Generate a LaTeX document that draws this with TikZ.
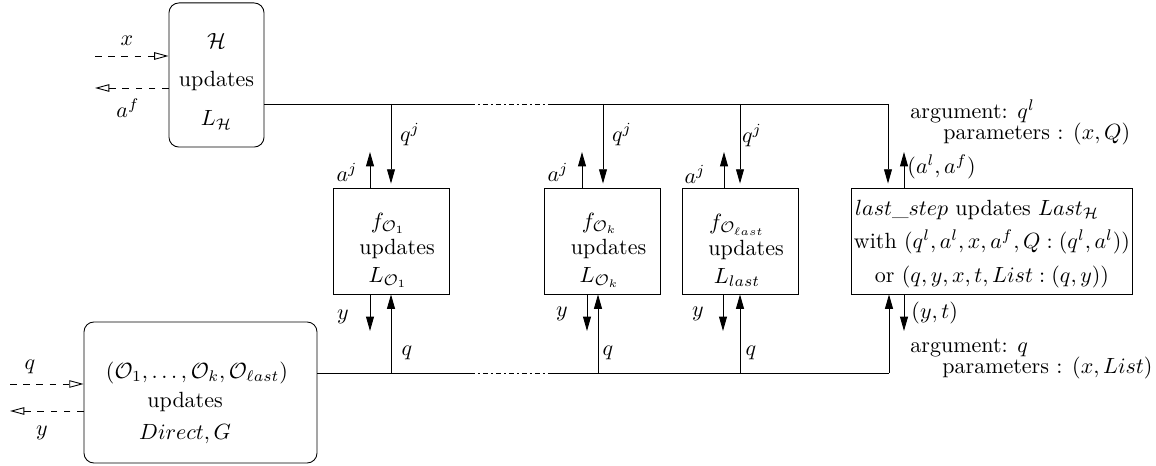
\documentclass[tikz,border=0pt]{standalone}
\usetikzlibrary{arrows.meta}
\begin{document}
\begin{tikzpicture}[x=0.4545pt,y=-0.4545pt,
  arr/.style={-{Triangle[length=6.5pt,width=3.6pt]}},
  oarr/.style={dashed,-{Triangle[open,length=6.5pt,width=3.4pt]}},
  dd/.style={dash pattern=on 2.2pt off 1.4pt on 0.9pt off 1.4pt},
  lbl/.style={inner sep=0pt},
  rbox/.style={draw, rounded corners=4.5pt, align=center, inner sep=1pt},
  sbox/.style={draw, align=center, inner sep=1pt, minimum width=52.7pt, minimum height=48.2pt}]
\useasboundingbox (0,0) rectangle (1156,466);

% boxes
\node[rbox, minimum width=43.2pt, minimum height=65.5pt] (H) at (216.5,75)
  {\rule{0pt}{12.5pt}$\mathcal{H}$\\[5.3pt] updates\\[6pt] $L_{\mathcal{H}}$};
\node[rbox, minimum width=105.9pt, minimum height=64.1pt] (D) at (200.5,392.5)
  {\rule{0pt}{17pt}$(\mathcal{O}_1,\ldots,\mathcal{O}_k,\mathcal{O}_{\ell ast})$\hspace*{3.2pt}\mbox{}\\[1.5pt]%
   updates\hspace*{14pt}\mbox{}\\[2.5pt]%
   $Direct,G$\hspace*{14pt}\mbox{}};
\node[sbox] (F1) at (391,241)
  {\rule{0pt}{15.5pt}$f_{\mathcal{O}_1}$\hspace*{2.7pt}\mbox{}\\%
   \mbox{}\hspace*{5.5pt}updates\\[0.5pt]%
   $L_{\mathcal{O}_1}$\hspace*{2.7pt}\mbox{}};
\node[sbox] (Fk) at (602.5,241)
  {\rule{0pt}{15.5pt}$f_{\mathcal{O}_k}$\hspace*{2.7pt}\mbox{}\\%
   \mbox{}\hspace*{5.5pt}updates\\[0.5pt]%
   $L_{\mathcal{O}_k}$\hspace*{2.7pt}\mbox{}};
\node[sbox] (Fl) at (740,241)
  {\rule{0pt}{15.5pt}$f_{\mathcal{O}_{\ell ast}}$\hspace*{2.7pt}\mbox{}\\%
   \mbox{}\hspace*{5.5pt}updates\\[0.5pt]%
   $L_{last}$\hspace*{2.7pt}\mbox{}};
\node[sbox, minimum width=127.3pt] (LS) at (992,241)
  {\rule{0pt}{10pt}$last\_step$ updates $Last_{\mathcal{H}}$\hspace*{13.5pt}\mbox{}\\[3pt]%
   with $(q^l,a^l,x,a^f,Q:(q^l,a^l))$\\[3.5pt]%
   or $(q,y,x,t,List:(q,y))$};

% coordinates
\coordinate (hb) at (264,104);
\coordinate (g1) at (470,104);
\coordinate (g2) at (550,104);
\coordinate (tr) at (888,104);
\coordinate (db) at (317,373);
\coordinate (h1) at (470,373);
\coordinate (h2) at (550,373);
\coordinate (br) at (889,373);
\coordinate (q1) at (391,104);
\coordinate (qk) at (603,104);
\coordinate (ql) at (740,104);
\coordinate (a1) at (370,152);
\coordinate (ak) at (582,152);
\coordinate (al) at (724,152);
\coordinate (y1) at (370,331);
\coordinate (yk) at (587,331);
\coordinate (yl) at (723,331);
\coordinate (b1) at (391,373);
\coordinate (bk) at (598,373);
\coordinate (bl) at (740,373);
\coordinate (la) at (904,152);
\coordinate (lb) at (904,331);
\coordinate (xs) at (95,56);
\coordinate (af) at (95,88);
\coordinate (qs) at (10,384);
\coordinate (ys) at (10,411);

% buses
\draw (hb) -- (g1);
\draw[dd] (g1) -- (g2);
\draw (g2) -- (tr);
\draw[arr, shorten >=1.8pt] (tr) -- (LS.north -| tr);
\draw (db) -- (h1);
\draw[dd] (h1) -- (h2);
\draw (h2) -- (br);
\draw[arr] (br) -- (LS.south -| br);

% top arrows
\draw[arr, shorten >=1.8pt] (q1) -- (F1.north -| q1);
\draw[arr, shorten >=1.8pt] (qk) -- (Fk.north -| qk);
\draw[arr, shorten >=1.8pt] (ql) -- (Fl.north -| ql);
\draw[arr] (F1.north -| a1) -- (a1);
\draw[arr] (Fk.north -| ak) -- (ak);
\draw[arr] (Fl.north -| al) -- (al);
\draw[arr] (LS.north -| la) -- (la);

% bottom arrows
\draw[arr] (F1.south -| y1) -- (y1);
\draw[arr] (Fk.south -| yk) -- (yk);
\draw[arr] (Fl.south -| yl) -- (yl);
\draw[arr] (b1) -- (F1.south -| b1);
\draw[arr] (bk) -- (Fk.south -| bk);
\draw[arr] (bl) -- (Fl.south -| bl);
\draw[arr] (LS.south -| lb) -- (lb);

% dashed io
\draw[oarr] (xs) -- (H.west |- xs);
\draw[oarr] (H.west |- af) -- (af);
\draw[oarr] (qs) -- (D.west |- qs);
\draw[oarr] (D.west |- ys) -- (ys);

% labels
\node[lbl] (lx) at (127,41) {$x$};
\node[lbl] (laf) at (128,108) {$a^f$};
\node[lbl] (lq) at (30,367) {$q$};
\node[lbl] (ly) at (42,433) {$y$};
\node[lbl] (lqj1) at (410,135) {$q^j$};
\node[lbl] (lqjk) at (622,135) {$q^j$};
\node[lbl] (lqjl) at (752,136) {$q^j$};
\node[lbl] (laj1) at (347,172) {$a^j$};
\node[lbl] (lajk) at (558,172) {$a^j$};
\node[lbl] (lajl) at (695,174) {$a^j$};
\node[lbl] (ly1) at (343,317) {$y$};
\node[lbl] (lyk) at (562,314) {$y$};
\node[lbl] (lyl) at (698,314) {$y$};
\node[lbl] (lq1) at (407,353) {$q$};
\node[lbl] (lqk) at (608,353) {$q$};
\node[lbl] (lql) at (751,353) {$q$};
\node[lbl, anchor=west] (arg1) at (910,111) {argument: $q^l$};
\node[lbl, anchor=west] (par1) at (943,134) {parameters : $(x,Q)$};
\node[lbl, anchor=west] (alaf) at (907,167) {$(a^l,a^f)$};
\node[lbl, anchor=west] (yt) at (911,313) {$(y,t)$};
\node[lbl, anchor=west] (arg2) at (910,348) {argument: $q$};
\node[lbl, anchor=west] (par2) at (942,368) {parameters : $(x,List)$};
\end{tikzpicture}
\end{document}
